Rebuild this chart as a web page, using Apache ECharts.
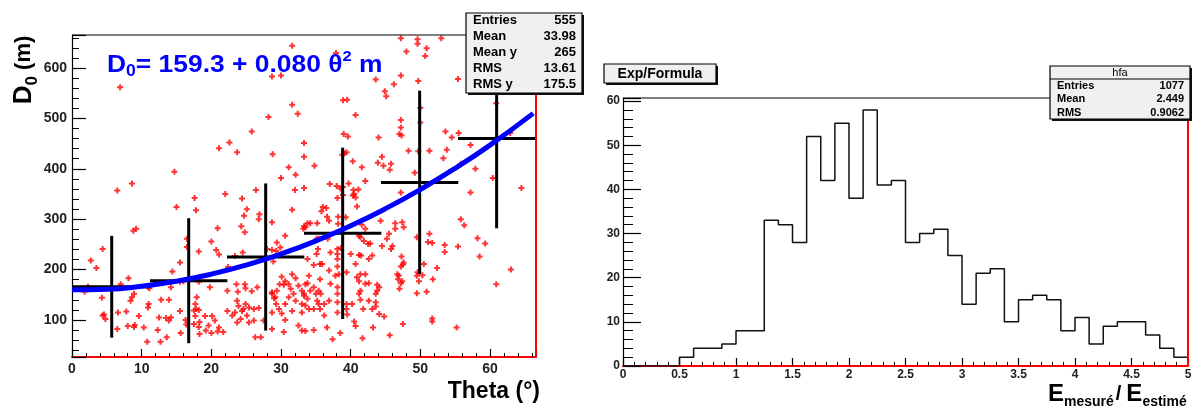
<!DOCTYPE html>
<html><head><meta charset="utf-8">
<script src="https://cdn.jsdelivr.net/npm/echarts@6/dist/echarts.min.js"></script>
<style>html,body{margin:0;padding:0;background:#fff}#c{width:1196px;height:406px}</style>
</head><body><div id="c"></div>
<script>
// ---------- DATA ----------
// Left panel: scatter of D0 (m) vs Theta (deg)
const scatterPoints = [
[6.9,562],[31.6,644],[28.7,583],[30.0,585],[31.6,527],[32.4,509],[28.2,503],[25.8,474],[22.6,452],[21.1,441],[23.7,433],[28.8,429],[33.3,451],[33.3,424],[31.1,403],[32.1,388],[30.0,382],[14.7,394],[8.6,371],[6.5,357],[22.0,350],[26.4,358],[32.0,358],[33.3,362],
[47.2,659],[49.6,657],[49.6,648],[53.0,659],[48.0,633],[50.9,639],[50.7,624],[37.9,630],[43.6,577],[47.2,585],[46.2,568],[49.7,574],[55.4,578],[58.5,615],[57.3,655],[57.9,555],[44.9,554],[45.1,544],[38.9,536],[39.5,537],[40.7,507],[47.2,497],[47.2,482],[47.0,469],[47.3,466],[50.0,492],[50.0,521],[60.9,530],[39.0,469],[39.6,464],[44.0,462],[53.6,474],[54.5,462],[55.5,471],[62.9,471],[57.2,447],[48.3,436],[49.7,435],[51.3,436],[53.8,438],[53.3,421],[39.1,431],[38.8,428],[39.4,433],[40.3,415],[34.8,406],[41.6,403],[44.5,424],[43.9,412],[44.7,406],[45.8,410],[45.6,398],[49.2,392],[55.8,410],[57.9,400],[60.4,382],[64.5,362],[57.2,353],[42.1,376],[38.0,366],[38.9,364],[38.5,361],[39.7,371],[40.5,350],[47.2,353],[52.5,379],[37.0,370],[40.4,358],[41.1,359],
[17.6,342],[15.0,324],[17.8,318],[24.4,341],[25.1,320],[24.7,307],[26.9,310],[26.8,300],[24.3,286],[24.8,274],[28.7,294],[31.6,319],[33.2,281],[33.5,284],[8.8,277],[9.2,281],[20.9,282],[20.0,256],[20.7,239],[21.1,230],[18.2,236],[16.5,261],[16.5,245],[4.4,241],[2.7,218],[3.5,203],[15.5,214],[14.4,196],[22.4,205],[24.5,234],[23.4,227],[30.6,267],[29.4,254],[29.9,244],[29.3,237],[28.7,239],[28.0,241],[28.9,216],[2.3,166],[1.8,156],[7.0,171],[8.1,183],[11.1,163],[10.9,166],[14.2,165],[15.5,176],[16.0,177],[18.2,176],[19.8,165],[22.3,158],[23.6,171],[23.8,156],[24.8,171],[24.9,163],[25.8,157],[26.6,165],
[30.1,186],[30.6,177],[31.1,171],[31.6,191],[32.1,183],[31.4,162],[30.4,170],[29.8,171],[29.4,158],[29.0,143],[28.7,155],[32.5,168],[33.0,158],[33.3,148],[33.5,171],
[4.3,144],[4.6,111],[4.4,109],[4.8,102],[6.6,115],[6.5,82],[7.8,117],[8.0,88],[9.0,90],[8.9,86],[8.4,138],[8.6,145],[8.9,152],[9.6,108],[10.3,85],[10.8,57],[11.0,132],[10.9,125],[12.5,105],[12.3,80],[12.7,57],[13.5,104],[13.9,99],[14.2,105],[12.8,140],[13.9,140],[15.5,118],[16.3,100],[15.6,74],[13.6,66],[16.4,91],[17.7,132],[17.8,122],[18.2,120],[17.5,119],[17.9,145],[17.7,108],[18.3,96],[18.2,86],[17.5,92],[19.1,108],[19.6,89],[19.2,79],[20.1,108],[20.5,99],[21.1,85],[20.9,77],[21.7,76],[18.3,72],[20.0,74],[22.3,118],
[23.0,109],[23.7,138],[23.9,128],[24.4,118],[24.2,102],[23.7,95],[24.9,132],[24.6,122],[25.1,109],[23.4,115],[25.4,125],[26.1,122],[26.8,124],[25.4,95],[26.1,99],[26.3,66],[27.1,66],[28.7,82],[27.5,99],[28.7,115],[29.3,132],[29.7,122],[30.1,113],[30.6,100],[28.7,152],[29.2,145],[30.6,132],[31.6,118],[32.1,138],[33.0,132],[33.0,115],[32.5,89],[33.0,79],[30.4,76],[31.1,145],[31.8,152],
[38.1,342],[38.9,348],[40.3,347],[40.7,343],[36.0,324],[36.5,322],[35.8,316],[36.6,305],[36.9,297],[38.2,305],[39.3,304],[40.9,325],[34.2,292],[35.2,292],[33.3,286],[33.8,292],[38.2,291],[35.4,261],[36.7,261],[41.2,267],[42.1,281],[41.6,289],[42.5,251],[42.8,252],[41.9,257],[44.3,297],[46.4,292],[46.4,281],[47.6,284],[47.4,294],[45.5,271],[45.2,261],[46.0,247],[45.8,241],[44.5,247],[49.5,264],[51.3,271],[51.1,255],[51.7,253],[53.5,249],[53.5,235],[55.4,246],[55.8,300],[56.3,288],[58.2,262],[59.3,252],[58.5,226],[47.3,226],[47.6,214],[47.5,210],[47.2,206],[46.7,191],[46.9,188],[46.8,181],[47.4,177],[47.2,173],[47.0,162],[49.6,195],[49.5,188],[50.5,211],[50.3,189],[49.8,177],[49.5,153],[50.9,156],[51.8,181],[52.4,203],[63.0,200],[60.9,171],[47.5,92],[51.7,103],[51.7,97],[55.2,85],[45.6,70],[43.2,85],[41.7,64],[40.5,97],[40.7,88],[38.5,74],[37.4,62],[36.6,85],[34.7,80],[33.5,78],
[35.1,261],[41.4,264],[35.3,241],[38.1,241],[38.6,243],[37.1,234],[33.8,221],[35.1,231],[38.1,231],[40.0,231],[41.2,229],[41.5,228],[43.1,228],[38.1,221],[42.6,221],[34.7,209],[35.6,211],[35.9,211],[38.1,206],[40.7,211],[34.0,188],[35.6,181],[36.9,198],[37.8,188],[38.3,191],[39.4,195],[41.4,191],[42.1,191],[40.9,185],[33.8,173],[34.7,165],[35.4,158],[37.1,172],[38.1,165],[41.2,177],[42.1,172],[42.6,173],[43.8,170],[44.1,165],[43.8,158],[41.4,158],[33.3,152],[34.2,158],[35.0,152],[35.7,152],[33.8,142],[35.2,138],[35.4,132],[38.1,152],[41.2,152],[41.4,140],[43.6,152],[33.5,129],[34.0,122],[34.7,122],[35.6,122],[36.2,132],[36.9,138],[38.1,135],[39.4,132],[40.2,132],[42.6,138],[43.6,135],[43.6,127],[43.1,122],[38.1,115],[39.4,122],[39.5,111],[36.2,109],[44.1,112],[44.8,107],[41.8,122]
];
// Profile (black crosses): bin centres, means, RMS spread
const profileCenters = [5.7, 16.75, 27.8, 38.85, 49.9, 60.95];
const profileMeans   = [166, 178, 225, 272, 373, 460];
const profileRms     = [101, 124, 146, 170, 182, 178];
const profileHalfWidth = 5.55;
// Fitted curve (blue)
const fitTheta = [0, 5, 10, 15, 20, 25, 30, 35, 40, 45, 50, 55, 60, 66.2];
const fitD0    = [160, 161, 167, 177, 191, 209, 231, 257, 287, 321, 359, 401, 447, 510];
// Right panel histogram: 40 bins of width 0.125 from 0 to 5
const histMin = 0;
const histBinWidth = 0.125;
const histCounts = [0,0,0,0,2,4,4,5,8,8,33,32,28,52,42,55,38,58,41,42,28,30,31,25,14,21,22,10,15,16,15,8,11,5,9,10,10,7,4,2];
// Text
const statsLeftLabels = ['Entries','Mean','Mean y','RMS','RMS y'];
const statsLeftValues = ['555','33.98','265','13.61','175.5'];
const statsRightTitle = 'hfa';
const statsRightLabels = ['Entries','Mean','RMS'];
const statsRightValues = ['1077','2.449','0.9062'];
const rightTitle = 'Exp/Formula';

// ---------- LAYOUT ----------
const FONT = '"Liberation Sans", Arial, Helvetica, sans-serif';
const G1 = {left:72, top:35, width:464, height:322};
const G2 = {left:623, top:98, width:565, height:268};
const RED = '#ff0000';

const cv = document.createElement('canvas').getContext('2d');
function tw(t, size, weight){ cv.font = (weight||'bold') + ' ' + size + 'px ' + FONT; return cv.measureText(t).width; }
function txt(t, x, y, size, opt){
  opt = opt || {};
  return {type:'text', x:x, y:y, z:opt.z||200, style:{text:t, font:(opt.weight||'bold')+' '+size+'px '+FONT,
    fill:opt.color||'#000', align:opt.align||'left', verticalAlign:'middle', textAlign:opt.align||'left', textVerticalAlign:'middle'}};
}
function run(pieces, x0, y0, color){
  let x = x0; const out = [];
  pieces.forEach(p => {
    x += (p.pre||0);
    out.push(txt(p.t, x, y0 + (p.dy||0), p.s, {color:color, weight:p.w}));
    x += tw(p.t, p.s, p.w) + (p.post||0);
  });
  return {children:out, width:x - x0};
}
function box(x, y, w, h, fill){
  return [
    {type:'rect', z:150, shape:{x:x+2, y:y+2, width:w, height:h}, style:{fill:'#111'}},
    {type:'rect', z:151, shape:{x:x, y:y, width:w, height:h}, style:{fill:fill, stroke:'#000', lineWidth:1.2}}
  ];
}

const graphics = [];
// frame lines
graphics.push({type:'line', z:50, shape:{x1:G1.left, y1:G1.top, x2:466, y2:G1.top}, style:{stroke:'#000', lineWidth:1.2}});
graphics.push({type:'line', z:50, shape:{x1:G1.left+G1.width, y1:G1.top, x2:G1.left+G1.width, y2:G1.top+G1.height}, style:{stroke:RED, lineWidth:2}});
graphics.push({type:'line', z:50, shape:{x1:G2.left, y1:G2.top, x2:1050, y2:G2.top}, style:{stroke:'#000', lineWidth:1.2}});
graphics.push({type:'line', z:50, shape:{x1:G2.left+G2.width, y1:G2.top, x2:G2.left+G2.width, y2:G2.top+G2.height}, style:{stroke:RED, lineWidth:2}});
// left stats box
box(466, 13, 116, 80, '#f0f0f0').forEach(e => graphics.push(e));
statsLeftLabels.forEach((l, i) => {
  graphics.push(txt(l, 473, 20 + i*16, 13));
  graphics.push(txt(statsLeftValues[i], 576, 20 + i*16, 13, {align:'right'}));
});
// right stats box
box(1050, 66, 140, 53, '#f0f0f0').forEach(e => graphics.push(e));
graphics.push({type:'line', z:160, shape:{x1:1050, y1:79, x2:1190, y2:79}, style:{stroke:'#000', lineWidth:1}});
graphics.push(txt(statsRightTitle, 1120, 72.5, 11, {align:'center', weight:'normal'}));
statsRightLabels.forEach((l, i) => {
  graphics.push(txt(l, 1057, 85.5 + i*13.5, 11));
  graphics.push(txt(statsRightValues[i], 1184, 85.5 + i*13.5, 11, {align:'right'}));
});
// right title box
box(604, 64, 112, 19, '#f0f0f0').forEach(e => graphics.push(e));
graphics.push(txt(rightTitle, 660, 74, 14, {align:'center'}));
// formula
{
  const r = run([{t:'D', s:24}, {t:'0', s:16, dy:7}, {t:'= 159.3 + 0.080 \u03b8', s:24}, {t:'2', s:15, dy:-8}, {t:' m', s:24}], 0, 0, '#0000ff');
  graphics.push({type:'group', x:107, y:65, scaleX:1.1, children:r.children});
}
// y title left (rotated)
{
  const pieces = [{t:'D', s:26}, {t:'0', s:17, dy:8}, {t:' (m)', s:22}];
  let w = 0; pieces.forEach(p => w += tw(p.t, p.s));
  const r = run(pieces, -w/2, 0, '#000');
  graphics.push({type:'group', x:24, y:70, rotation:Math.PI/2, children:r.children});
}
// x title left
graphics.push(txt('Theta (\u00b0)', 540, 392, 23, {align:'right'}));
// x title right
{
  const r = run([{t:'E', s:24}, {t:'mesur\u00e9', s:14, dy:8}, {t:'/', s:20, pre:2, post:5}, {t:'E', s:24}, {t:'estim\u00e9', s:14, dy:8}], 1048, 394, '#000');
  r.children.forEach(c => graphics.push(c));
}

// ---------- SERIES DATA ----------
const histData = histCounts.map((c, i) => [histMin + i*histBinWidth, c]);
histData.push([histMin + histCounts.length*histBinWidth, histCounts[histCounts.length-1]]);
const profileData = profileCenters.map((c, i) => [c, profileMeans[i], profileRms[i], profileHalfWidth]);
const fitData = fitTheta.map((t, i) => [t, fitD0[i]]);

const labelStyle = {fontFamily:FONT, fontWeight:'bold', color:'#222'};
const chart = echarts.init(document.getElementById('c'), null, {renderer:'canvas'});
chart.setOption({
  animation:false,
  backgroundColor:'#fff',
  grid:[Object.assign({containLabel:false}, G1), Object.assign({containLabel:false}, G2)],
  xAxis:[
    {type:'value', gridIndex:0, min:0, max:66.6, interval:10,
     axisLine:{lineStyle:{color:RED, width:2}},
     axisTick:{inside:true, length:8, lineStyle:{color:'#000', width:1.2}},
     minorTick:{show:true, splitNumber:5, length:4, lineStyle:{color:'#000', width:1}},
     axisLabel:Object.assign({fontSize:14, margin:5, showMaxLabel:false}, labelStyle),
     splitLine:{show:false}},
    {type:'value', gridIndex:1, min:0, max:5, interval:0.5,
     axisLine:{lineStyle:{color:RED, width:2}},
     axisTick:{inside:true, length:8, lineStyle:{color:'#000', width:1.2}},
     minorTick:{show:true, splitNumber:5, length:4, lineStyle:{color:'#000', width:1}},
     axisLabel:Object.assign({fontSize:12, margin:3}, labelStyle),
     splitLine:{show:false}}
  ],
  yAxis:[
    {type:'value', gridIndex:0, min:26.6, max:665.5, splitNumber:6,
     axisLine:{show:true, lineStyle:{color:'#000', width:1.2}},
     axisTick:{inside:true, length:14, lineStyle:{color:'#000', width:1.2}},
     minorTick:{show:true, splitNumber:5, length:7, lineStyle:{color:'#000', width:1}},
     axisLabel:Object.assign({fontSize:14, margin:5, showMinLabel:false, showMaxLabel:false}, labelStyle),
     splitLine:{show:false}},
    {type:'value', gridIndex:1, min:0, max:60.7, interval:10,
     axisLine:{show:true, lineStyle:{color:'#000', width:1.2}},
     axisTick:{inside:true, length:18, lineStyle:{color:'#000', width:1.2}},
     minorTick:{show:true, splitNumber:5, length:10, lineStyle:{color:'#000', width:1}},
     axisLabel:Object.assign({fontSize:12, margin:3, showMaxLabel:false}, labelStyle),
     splitLine:{show:false}}
  ],
  series:[
    {type:'scatter', xAxisIndex:0, yAxisIndex:0, data:scatterPoints, silent:true, z:2,
     symbol:'path://M2,0L4,0L4,2L6,2L6,4L4,4L4,6L2,6L2,4L0,4L0,2L2,2Z', symbolSize:6,
     itemStyle:{color:'#ff0000'}},
    {type:'custom', xAxisIndex:0, yAxisIndex:0, data:profileData, silent:true, z:3,
     renderItem:function(params, api){
       const c = api.value(0), m = api.value(1), e = api.value(2), hw = api.value(3);
       const pL = api.coord([c-hw, m]), pR = api.coord([c+hw, m]);
       const pT = api.coord([c, m+e]), pB = api.coord([c, m-e]);
       return {type:'group', children:[
         {type:'line', shape:{x1:pL[0], y1:pL[1], x2:pR[0], y2:pR[1]}, style:{stroke:'#000', lineWidth:3}},
         {type:'line', shape:{x1:pT[0], y1:pT[1], x2:pB[0], y2:pB[1]}, style:{stroke:'#000', lineWidth:3}}
       ]};
     }},
    {type:'line', xAxisIndex:0, yAxisIndex:0, data:fitData, smooth:true, symbol:'none', silent:true, z:4,
     lineStyle:{color:'#0000ff', width:5}},
    {type:'line', xAxisIndex:1, yAxisIndex:1, data:histData, step:'end', symbol:'none', silent:true, z:3,
     lineStyle:{color:'#111', width:1.5}}
  ],
  graphic:{elements:graphics}
});
</script></body></html>
